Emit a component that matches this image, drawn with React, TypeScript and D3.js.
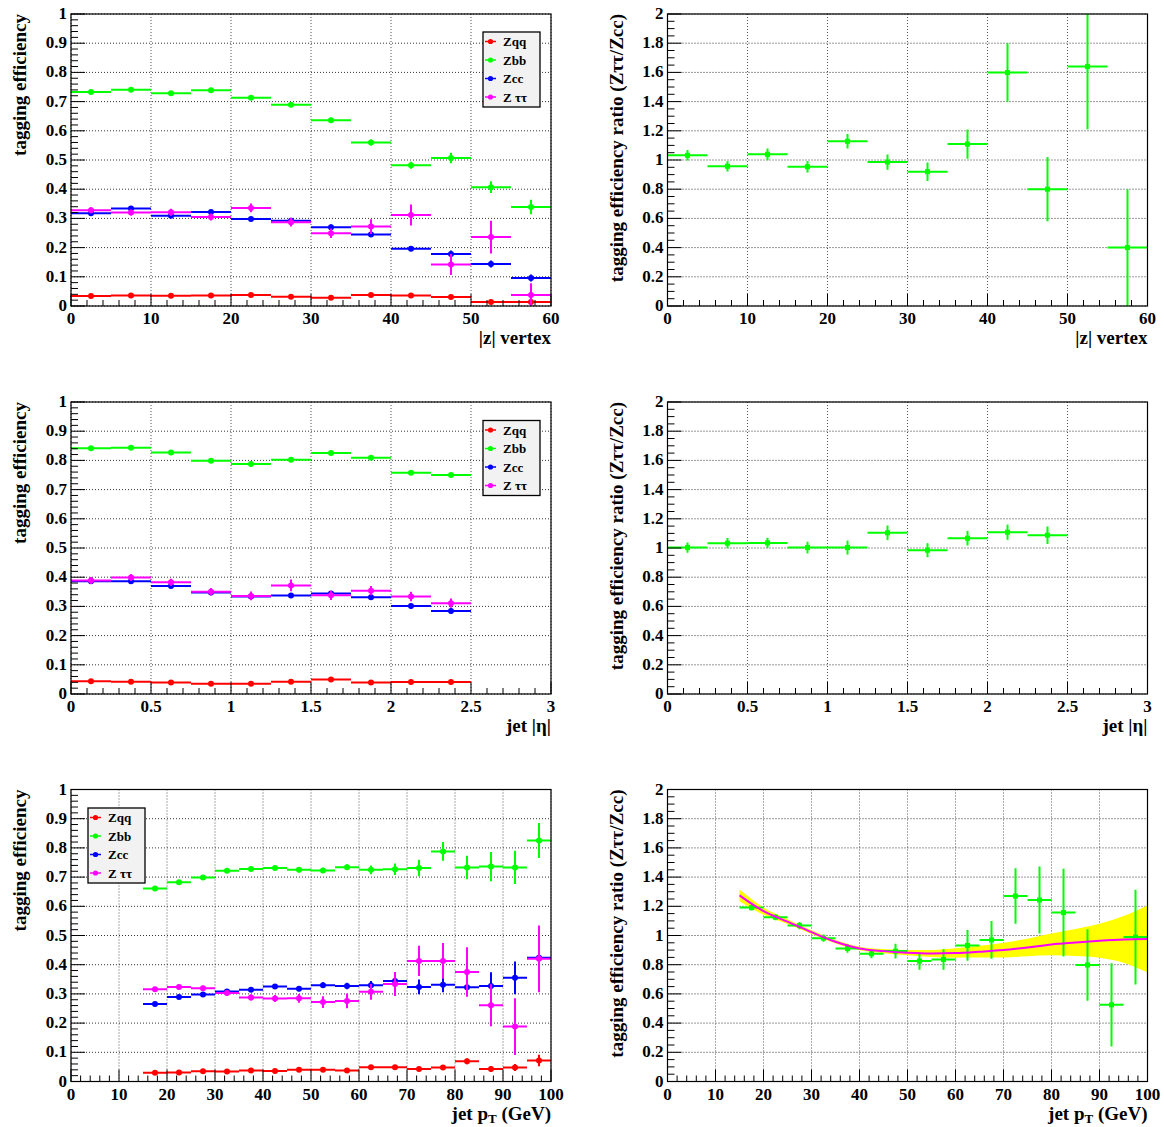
import React from 'react';
import * as d3 from 'd3';

// ---------- |z| vertex ----------
const zCenters = [2.5, 7.5, 12.5, 17.5, 22.5, 27.5, 32.5, 37.5, 42.5, 47.5, 52.5, 57.5];
const zZqq = [0.034, 0.036, 0.035, 0.036, 0.038, 0.032, 0.028, 0.038, 0.036, 0.031, 0.014, 0.014];
const zZqqErr = [0.003, 0.003, 0.003, 0.003, 0.003, 0.003, 0.003, 0.003, 0.004, 0.004, 0.003, 0.003];
const zZbb = [0.733, 0.741, 0.729, 0.739, 0.713, 0.689, 0.636, 0.560, 0.482, 0.507, 0.407, 0.339];
const zZbbErr = [0.005, 0.005, 0.005, 0.006, 0.007, 0.008, 0.009, 0.01, 0.012, 0.018, 0.02, 0.025];
const zZcc = [0.318, 0.334, 0.309, 0.322, 0.298, 0.292, 0.270, 0.245, 0.196, 0.178, 0.144, 0.096];
const zZccErr = [0.006, 0.006, 0.006, 0.007, 0.007, 0.008, 0.009, 0.009, 0.008, 0.012, 0.012, 0.012];
const zZtt = [0.328, 0.320, 0.321, 0.305, 0.336, 0.287, 0.249, 0.272, 0.312, 0.142, 0.236, 0.038];
const zZttErr = [0.01, 0.01, 0.012, 0.012, 0.015, 0.015, 0.016, 0.025, 0.036, 0.036, 0.056, 0.04];
const zRatio = [1.032, 0.957, 1.039, 0.954, 1.128, 0.986, 0.920, 1.109, 1.599, 0.80, 1.64, 0.40];
const zRatioErr = [0.036, 0.035, 0.04, 0.04, 0.05, 0.052, 0.063, 0.1, 0.2, 0.22, 0.43, 0.4];

// ---------- jet |eta| ----------
const etaCenters = [0.125, 0.375, 0.625, 0.875, 1.125, 1.375, 1.625, 1.875, 2.125, 2.375];
const etaZqq = [0.044, 0.042, 0.039, 0.035, 0.035, 0.042, 0.050, 0.039, 0.041, 0.041];
const etaZqqErr = [0.003, 0.003, 0.003, 0.003, 0.003, 0.003, 0.003, 0.003, 0.003, 0.003];
const etaZbb = [0.842, 0.843, 0.827, 0.799, 0.788, 0.802, 0.825, 0.809, 0.758, 0.750];
const etaZbbErr = [0.005, 0.005, 0.005, 0.005, 0.005, 0.005, 0.005, 0.006, 0.006, 0.006];
const etaZcc = [0.386, 0.386, 0.370, 0.348, 0.334, 0.337, 0.344, 0.331, 0.301, 0.284];
const etaZccErr = [0.007, 0.007, 0.007, 0.007, 0.007, 0.007, 0.008, 0.008, 0.008, 0.008];
const etaZtt = [0.389, 0.399, 0.383, 0.350, 0.336, 0.372, 0.338, 0.354, 0.334, 0.311];
const etaZttErr = [0.012, 0.012, 0.012, 0.013, 0.015, 0.02, 0.016, 0.016, 0.016, 0.016];
const etaRatio = [1.003, 1.033, 1.035, 1.003, 1.003, 1.104, 0.985, 1.067, 1.108, 1.088];
const etaRatioErr = [0.035, 0.035, 0.035, 0.04, 0.048, 0.05, 0.048, 0.05, 0.052, 0.06];

// ---------- jet pT ----------
const ptCenters = [17.5, 22.5, 27.5, 32.5, 37.5, 42.5, 47.5, 52.5, 57.5, 62.5, 67.5, 72.5, 77.5, 82.5, 87.5, 92.5, 97.5];
const ptZqq = [0.030, 0.031, 0.035, 0.034, 0.0375, 0.036, 0.040, 0.040, 0.0375, 0.049, 0.049, 0.043, 0.048, 0.069, 0.043, 0.048, 0.072];
const ptZqqErr = [0.002, 0.002, 0.002, 0.002, 0.002, 0.003, 0.003, 0.003, 0.004, 0.004, 0.005, 0.006, 0.007, 0.01, 0.01, 0.012, 0.02];
const ptZbb = [0.661, 0.682, 0.699, 0.722, 0.728, 0.731, 0.725, 0.723, 0.734, 0.725, 0.727, 0.731, 0.788, 0.733, 0.736, 0.733, 0.825];
const ptZbbErr = [0.004, 0.005, 0.005, 0.006, 0.006, 0.007, 0.008, 0.009, 0.01, 0.015, 0.02, 0.028, 0.032, 0.04, 0.05, 0.057, 0.06];
const ptZcc = [0.265, 0.289, 0.298, 0.308, 0.314, 0.325, 0.318, 0.330, 0.327, 0.330, 0.344, 0.324, 0.331, 0.323, 0.327, 0.355, 0.424];
const ptZccErr = [0.005, 0.005, 0.006, 0.006, 0.007, 0.008, 0.009, 0.01, 0.011, 0.014, 0.02, 0.025, 0.025, 0.03, 0.047, 0.056, 0.06];
const ptZtt = [0.316, 0.324, 0.319, 0.303, 0.288, 0.284, 0.285, 0.272, 0.276, 0.307, 0.334, 0.413, 0.413, 0.375, 0.261, 0.188, 0.420];
const ptZttErr = [0.007, 0.008, 0.009, 0.01, 0.011, 0.012, 0.015, 0.02, 0.025, 0.027, 0.041, 0.052, 0.061, 0.085, 0.072, 0.097, 0.114];
const ptRatio = [1.191, 1.125, 1.068, 0.982, 0.911, 0.875, 0.893, 0.825, 0.836, 0.932, 0.970, 1.27, 1.243, 1.157, 0.798, 0.525, 0.989];
const ptRatioErr = [0.02, 0.02, 0.025, 0.025, 0.03, 0.03, 0.05, 0.06, 0.07, 0.105, 0.13, 0.19, 0.23, 0.3, 0.245, 0.285, 0.325];

// fit to the pT ratio with its error band
const fitX = [15, 20, 25, 30, 35, 40, 45, 50, 55, 60, 65, 70, 75, 80, 85, 90, 95, 100];
const fitY = [1.275, 1.167, 1.095, 1.023, 0.957, 0.911, 0.893, 0.882, 0.877, 0.88, 0.889, 0.90, 0.918, 0.939, 0.952, 0.964, 0.973, 0.976];
const fitErr = [0.04, 0.025, 0.017, 0.013, 0.012, 0.012, 0.014, 0.018, 0.024, 0.032, 0.04, 0.05, 0.06, 0.074, 0.093, 0.117, 0.16, 0.23];

const legendLabels = ['Zqq', 'Zbb', 'Zcc', 'Z \u03c4\u03c4'];
const colors = ['#ff0000', '#00ff00', '#0000ff', '#ff00ff'];

const FONT = "'Liberation Serif', 'Times New Roman', Times, 'DejaVu Serif', serif";
const TXT: React.CSSProperties = { fontFamily: FONT, fontWeight: 'bold' };
const W = 480;
const H = 292;

type Series = { color: string; x: number[]; y: number[]; e: number[]; half: number; marker: 'circle' | 'square' };

function Panel(props: {
  id: string;
  left: number;
  top: number;
  xDomain: [number, number];
  xMajor: number;
  xMinor: number;
  yDomain: [number, number];
  yMajor: number;
  yMinor: number;
  xTitle: React.ReactNode;
  yTitle: string;
  series: Series[];
  legend?: { x: number; y: number };
  fit?: boolean;
}) {
  const { id, left, top, xDomain, yDomain, series, legend, fit } = props;
  const x = d3.scaleLinear().domain(xDomain).range([left, left + W]);
  const y = d3.scaleLinear().domain(yDomain).range([top + H, top]);
  const xT = x.ticks(props.xMajor);
  const xm = x.ticks(props.xMinor);
  const yT = y.ticks(props.yMajor);
  const ym = y.ticks(props.yMinor);
  const fmt = (v: number) => String(+v.toFixed(3));

  let band: string | null = null;
  let fitLine: string | null = null;
  if (fit) {
    const idx = fitX.map((_, i) => i);
    band = d3
      .area<number>()
      .x((i) => x(fitX[i]))
      .y0((i) => y(fitY[i] - fitErr[i]))
      .y1((i) => y(fitY[i] + fitErr[i]))
      .curve(d3.curveMonotoneX)(idx);
    fitLine = d3
      .line<number>()
      .x((i) => x(fitX[i]))
      .y((i) => y(fitY[i]))
      .curve(d3.curveMonotoneX)(idx);
  }

  return (
    <g>
      <defs>
        <clipPath id={id}>
          <rect x={left} y={top} width={W} height={H} />
        </clipPath>
      </defs>
      <rect x={left} y={top} width={W} height={H} fill="#fff" />
      {/* grid */}
      {xT.map((t) => (
        <line key={'gx' + t} x1={x(t)} x2={x(t)} y1={top} y2={top + H} stroke="#555" strokeWidth={1} strokeDasharray="1 2" />
      ))}
      {yT.map((t) => (
        <line key={'gy' + t} x1={left} x2={left + W} y1={y(t)} y2={y(t)} stroke="#333" strokeWidth={1} strokeDasharray="1 2" />
      ))}
      <g clipPath={`url(#${id})`}>
        {band && <path d={band} fill="#ffff00" stroke="none" />}
        {series.map((s, si) => (
          <g key={si}>
            {s.x.map((xv, i) => (
              <g key={i} stroke={s.color} strokeWidth={2}>
                <line x1={x(xv - s.half)} x2={x(xv + s.half)} y1={y(s.y[i])} y2={y(s.y[i])} />
                <line x1={x(xv)} x2={x(xv)} y1={y(s.y[i] - s.e[i])} y2={y(s.y[i] + s.e[i])} />
                {s.marker === 'circle' ? (
                  <circle cx={x(xv)} cy={y(s.y[i])} r={3} fill={s.color} stroke="none" />
                ) : (
                  <rect x={x(xv) - 2.5} y={y(s.y[i]) - 2.5} width={5} height={5} fill={s.color} stroke="none" />
                )}
              </g>
            ))}
          </g>
        ))}
        {fitLine && <path d={fitLine} fill="none" stroke="#ff00ff" strokeWidth={2} />}
      </g>
      {/* frame */}
      <rect x={left} y={top} width={W} height={H} fill="none" stroke="#000" strokeWidth={1.2} />
      {/* ticks */}
      {xm.map((t) => (
        <line key={'xm' + t} x1={x(t)} x2={x(t)} y1={top + H} y2={top + H - (xT.some((v) => Math.abs(v - t) < 1e-9) ? 12 : 6)} stroke="#000" strokeWidth={1} />
      ))}
      {ym.map((t) => (
        <line key={'ym' + t} x1={left} x2={left + (yT.some((v) => Math.abs(v - t) < 1e-9) ? 14 : 7)} y1={y(t)} y2={y(t)} stroke="#000" strokeWidth={1} />
      ))}
      {/* tick labels */}
      {xT.map((t) => (
        <text key={'xl' + t} x={x(t)} y={top + H + 18} textAnchor="middle" style={{ ...TXT, fontSize: 17 }}>
          {fmt(t)}
        </text>
      ))}
      {yT.map((t) => (
        <text key={'yl' + t} x={left - 4} y={y(t) + 5} textAnchor="end" style={{ ...TXT, fontSize: 17 }}>
          {fmt(t)}
        </text>
      ))}
      {/* titles */}
      <text x={left + W} y={top + H + 38} textAnchor="end" style={{ ...TXT, fontSize: 19 }}>
        {props.xTitle}
      </text>
      <text transform={`translate(${left - 45},${top}) rotate(-90)`} textAnchor="end" style={{ ...TXT, fontSize: 19 }}>
        {props.yTitle}
      </text>
      {/* legend */}
      {legend && (
        <g>
          <rect x={legend.x} y={legend.y} width={57} height={75} fill="#f2f2f2" stroke="#000" strokeWidth={1.3} />
          {legendLabels.map((lab, i) => {
            const cy = legend.y + 9.5 + i * 18.5;
            return (
              <g key={lab}>
                <line x1={legend.x + 2} x2={legend.x + 13} y1={cy} y2={cy} stroke={colors[i]} strokeWidth={1.5} />
                <circle cx={legend.x + 7.5} cy={cy} r={2.6} fill={colors[i]} />
                <text x={legend.x + 20} y={cy + 4.5} style={{ ...TXT, fontSize: 13 }}>
                  {lab}
                </text>
              </g>
            );
          })}
        </g>
      )}
    </g>
  );
}

function effSeries(xs: number[], half: number, ys: number[][], es: number[][]): Series[] {
  return ys.map((yv, i) => ({ color: colors[i], x: xs, y: yv, e: es[i], half, marker: 'circle' as const }));
}

export default function App() {
  const LX = 71;
  const RX = 667.5;
  const tops = [14, 402, 789.5];
  const effTitle = 'tagging efficiency';
  const ratioTitle = 'tagging efficiency ratio (Z\u03c4\u03c4/Zcc)';
  const ptTitle = (
    <>
      jet p<tspan style={{ fontSize: 13 }} dy={3}>T</tspan>
      <tspan dy={-3}> (GeV)</tspan>
    </>
  );
  return (
    <svg width={1164} height={1127} style={{ position: 'absolute', left: 0, top: 0, background: '#fff' }}>
      <rect x={0} y={0} width={1164} height={1127} fill="#fff" />
      <Panel
        id="c1"
        left={LX}
        top={tops[0]}
        xDomain={[0, 60]}
        xMajor={6}
        xMinor={30}
        yDomain={[0, 1]}
        yMajor={10}
        yMinor={50}
        xTitle="|z| vertex"
        yTitle={effTitle}
        series={effSeries(zCenters, 2.5, [zZqq, zZbb, zZcc, zZtt], [zZqqErr, zZbbErr, zZccErr, zZttErr])}
        legend={{ x: 483, y: 32 }}
      />
      <Panel
        id="c2"
        left={RX}
        top={tops[0]}
        xDomain={[0, 60]}
        xMajor={6}
        xMinor={30}
        yDomain={[0, 2]}
        yMajor={10}
        yMinor={50}
        xTitle="|z| vertex"
        yTitle={ratioTitle}
        series={[{ color: '#00ff00', x: zCenters, y: zRatio, e: zRatioErr, half: 2.5, marker: 'square' }]}
      />
      <Panel
        id="c3"
        left={LX}
        top={tops[1]}
        xDomain={[0, 3]}
        xMajor={6}
        xMinor={30}
        yDomain={[0, 1]}
        yMajor={10}
        yMinor={50}
        xTitle={'jet |\u03b7|'}
        yTitle={effTitle}
        series={effSeries(etaCenters, 0.125, [etaZqq, etaZbb, etaZcc, etaZtt], [etaZqqErr, etaZbbErr, etaZccErr, etaZttErr])}
        legend={{ x: 483, y: 420.5 }}
      />
      <Panel
        id="c4"
        left={RX}
        top={tops[1]}
        xDomain={[0, 3]}
        xMajor={6}
        xMinor={30}
        yDomain={[0, 2]}
        yMajor={10}
        yMinor={50}
        xTitle={'jet |\u03b7|'}
        yTitle={ratioTitle}
        series={[{ color: '#00ff00', x: etaCenters, y: etaRatio, e: etaRatioErr, half: 0.125, marker: 'square' }]}
      />
      <Panel
        id="c5"
        left={LX}
        top={tops[2]}
        xDomain={[0, 100]}
        xMajor={10}
        xMinor={50}
        yDomain={[0, 1]}
        yMajor={10}
        yMinor={50}
        xTitle={ptTitle}
        yTitle={effTitle}
        series={effSeries(ptCenters, 2.5, [ptZqq, ptZbb, ptZcc, ptZtt], [ptZqqErr, ptZbbErr, ptZccErr, ptZttErr])}
        legend={{ x: 88, y: 808 }}
      />
      <Panel
        id="c6"
        left={RX}
        top={tops[2]}
        xDomain={[0, 100]}
        xMajor={10}
        xMinor={50}
        yDomain={[0, 2]}
        yMajor={10}
        yMinor={50}
        xTitle={ptTitle}
        yTitle={ratioTitle}
        series={[{ color: '#00ff00', x: ptCenters, y: ptRatio, e: ptRatioErr, half: 2.5, marker: 'square' }]}
        fit
      />
    </svg>
  );
}
